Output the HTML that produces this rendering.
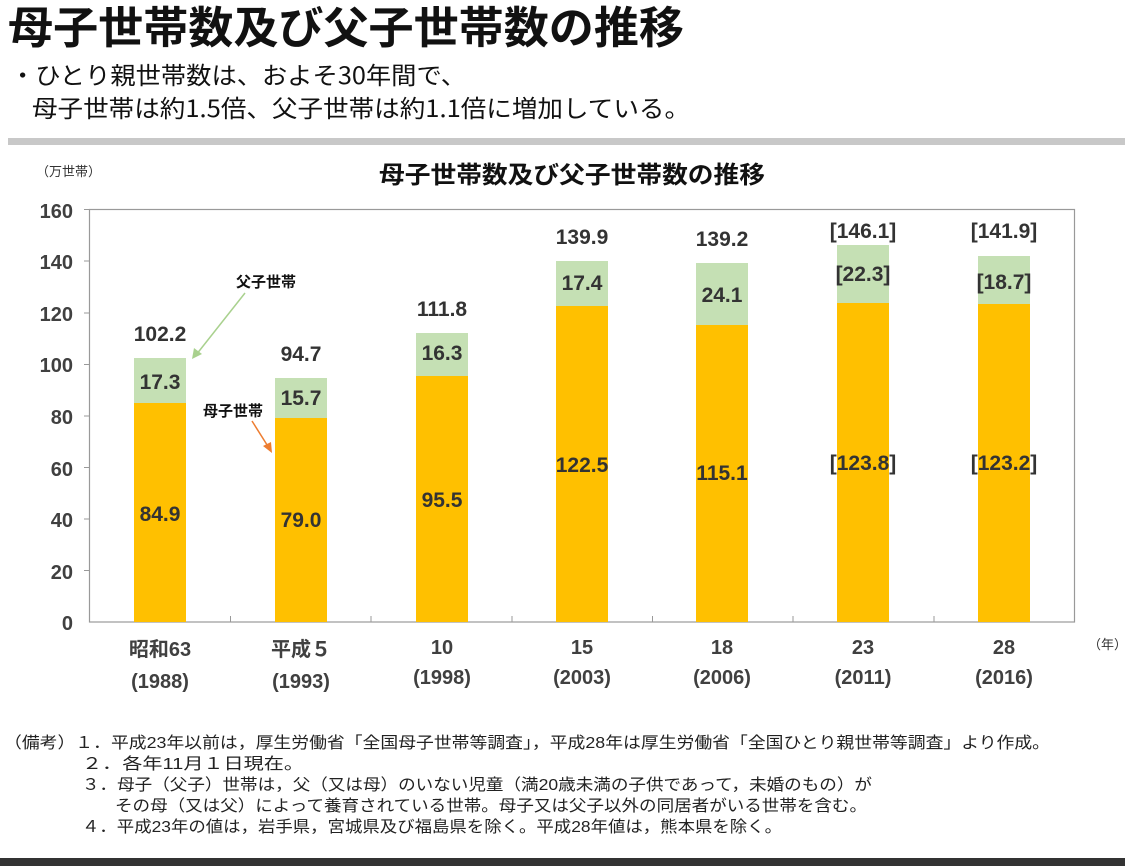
<!DOCTYPE html>
<html><head><meta charset="utf-8"><style>
html,body{margin:0;padding:0;background:#fff;width:1125px;height:866px;overflow:hidden}
svg text{font-family:"Liberation Sans","Noto Sans CJK JP",sans-serif}
</style></head><body>
<svg width="1125" height="866" xmlns="http://www.w3.org/2000/svg">
<text x="8" y="43" font-size="44" font-weight="bold" fill="#111" textLength="676" lengthAdjust="spacingAndGlyphs" style="font-family:'Noto Sans CJK JP',sans-serif">母子世帯数及び父子世帯数の推移</text>
<text x="10" y="84" font-size="24" fill="#111" textLength="456" lengthAdjust="spacingAndGlyphs" style="font-family:'Noto Sans CJK JP',sans-serif">・ひとり親世帯数は、およそ30年間で、</text>
<text x="32" y="117" font-size="24" fill="#111" textLength="658" lengthAdjust="spacingAndGlyphs" style="font-family:'Noto Sans CJK JP',sans-serif">母子世帯は約1.5倍、父子世帯は約1.1倍に増加している。</text>
<rect x="8" y="138" width="1117" height="7" fill="#c8c8c8"/>
<text x="36" y="176" font-size="13" fill="#333" style="font-family:'Noto Sans CJK JP',sans-serif">（万世帯）</text>
<text x="572" y="183" font-size="24" font-weight="bold" fill="#111" text-anchor="middle" textLength="386" lengthAdjust="spacingAndGlyphs" style="font-family:'Noto Sans CJK JP',sans-serif">母子世帯数及び父子世帯数の推移</text>
<rect x="89.5" y="209.5" width="985" height="412.5" fill="none" stroke="#999" stroke-width="1.2"/>
<g stroke="#999" stroke-width="1">
<line x1="84" y1="209.5" x2="90" y2="209.5"/><line x1="84" y1="261" x2="90" y2="261"/><line x1="84" y1="313" x2="90" y2="313"/><line x1="84" y1="364.5" x2="90" y2="364.5"/><line x1="84" y1="416" x2="90" y2="416"/><line x1="84" y1="467.5" x2="90" y2="467.5"/><line x1="84" y1="519" x2="90" y2="519"/><line x1="84" y1="570.5" x2="90" y2="570.5"/>
<line x1="230.5" y1="616" x2="230.5" y2="622"/><line x1="371" y1="616" x2="371" y2="622"/><line x1="512" y1="616" x2="512" y2="622"/><line x1="652.5" y1="616" x2="652.5" y2="622"/><line x1="793" y1="616" x2="793" y2="622"/><line x1="934" y1="616" x2="934" y2="622"/>
</g>
<g font-size="20" font-weight="bold" fill="#404040" text-anchor="end">
<text x="73" y="218">160</text><text x="73" y="269">140</text><text x="73" y="321">120</text><text x="73" y="372">100</text><text x="73" y="424">80</text><text x="73" y="476">60</text><text x="73" y="527">40</text><text x="73" y="579">20</text><text x="73" y="630">0</text>
</g>
<g>
<rect x="134" y="403" width="52" height="219" fill="#FFC000"/><rect x="134" y="358" width="52" height="45" fill="#C5E0B4"/>
<rect x="275" y="418" width="52" height="204" fill="#FFC000"/><rect x="275" y="378" width="52" height="40" fill="#C5E0B4"/>
<rect x="416" y="376" width="52" height="246" fill="#FFC000"/><rect x="416" y="333" width="52" height="43" fill="#C5E0B4"/>
<rect x="556" y="306" width="52" height="316" fill="#FFC000"/><rect x="556" y="261" width="52" height="45" fill="#C5E0B4"/>
<rect x="696" y="325" width="52" height="297" fill="#FFC000"/><rect x="696" y="263" width="52" height="62" fill="#C5E0B4"/>
<rect x="837" y="303" width="52" height="319" fill="#FFC000"/><rect x="837" y="245" width="52" height="58" fill="#C5E0B4"/>
<rect x="978" y="304" width="52" height="318" fill="#FFC000"/><rect x="978" y="256" width="52" height="48" fill="#C5E0B4"/>
</g>
<g font-size="21" font-weight="bold" fill="#333" text-anchor="middle" style="font-family:'Liberation Mono',monospace">
<text x="160" y="341">102.2</text><text x="160" y="389">17.3</text><text x="160" y="521">84.9</text>
<text x="301" y="361">94.7</text><text x="301" y="405">15.7</text><text x="301" y="527">79.0</text>
<text x="442" y="316">111.8</text><text x="442" y="360">16.3</text><text x="442" y="507">95.5</text>
<text x="582" y="244">139.9</text><text x="582" y="290">17.4</text><text x="582" y="472">122.5</text>
<text x="722" y="246">139.2</text><text x="722" y="302">24.1</text><text x="722" y="480">115.1</text>
<text x="863" y="238">[146.1]</text><text x="863" y="281">[22.3]</text><text x="863" y="470">[123.8]</text>
<text x="1004" y="238">[141.9]</text><text x="1004" y="289">[18.7]</text><text x="1004" y="470">[123.2]</text>
</g>
<text x="266" y="287" font-size="15" font-weight="bold" fill="#111" text-anchor="middle" style="font-family:'Noto Sans CJK JP',sans-serif">父子世帯</text>
<line x1="245" y1="293" x2="196" y2="355" stroke="#A9D18E" stroke-width="1.5"/>
<polygon points="192,359 194,348 202,354" fill="#A9D18E"/>
<text x="233" y="416" font-size="15" font-weight="bold" fill="#111" text-anchor="middle" style="font-family:'Noto Sans CJK JP',sans-serif">母子世帯</text>
<line x1="252" y1="421" x2="269" y2="448" stroke="#ED7D31" stroke-width="1.5"/>
<polygon points="272,453 263,446 271,442" fill="#ED7D31"/>
<g font-size="20" font-weight="bold" fill="#404040" text-anchor="middle" style="font-family:'Noto Sans CJK JP',sans-serif">
<text x="160" y="656">昭和63</text><text x="160" y="688">(1988)</text>
<text x="301" y="656">平成５</text><text x="301" y="688">(1993)</text>
<text x="442" y="654">10</text><text x="442" y="684">(1998)</text>
<text x="582" y="654">15</text><text x="582" y="684">(2003)</text>
<text x="722" y="654">18</text><text x="722" y="684">(2006)</text>
<text x="863" y="654">23</text><text x="863" y="684">(2011)</text>
<text x="1004" y="654">28</text><text x="1004" y="684">(2016)</text>
</g>
<text x="1088" y="649" font-size="13" fill="#333" style="font-family:'Noto Sans CJK JP',sans-serif">（年）</text>
<g font-size="16" fill="#222" style="font-family:'Noto Sans CJK JP',sans-serif">
<text x="4" y="748" textLength="1046" lengthAdjust="spacingAndGlyphs">（備考）１．平成23年以前は，厚生労働省「全国母子世帯等調査」，平成28年は厚生労働省「全国ひとり親世帯等調査」より作成。</text>
<text x="82" y="769" textLength="222" lengthAdjust="spacingAndGlyphs">２．各年11月１日現在。</text>
<text x="82" y="790" textLength="790" lengthAdjust="spacingAndGlyphs">３．母子（父子）世帯は，父（又は母）のいない児童（満20歳未満の子供であって，未婚のもの）が</text>
<text x="115" y="811" textLength="752" lengthAdjust="spacingAndGlyphs">その母（又は父）によって養育されている世帯。母子又は父子以外の同居者がいる世帯を含む。</text>
<text x="82" y="832" textLength="700" lengthAdjust="spacingAndGlyphs">４．平成23年の値は，岩手県，宮城県及び福島県を除く。平成28年値は，熊本県を除く。</text>
</g>
<rect x="0" y="858" width="1125" height="8" fill="#333"/>
</svg>
</body></html>
